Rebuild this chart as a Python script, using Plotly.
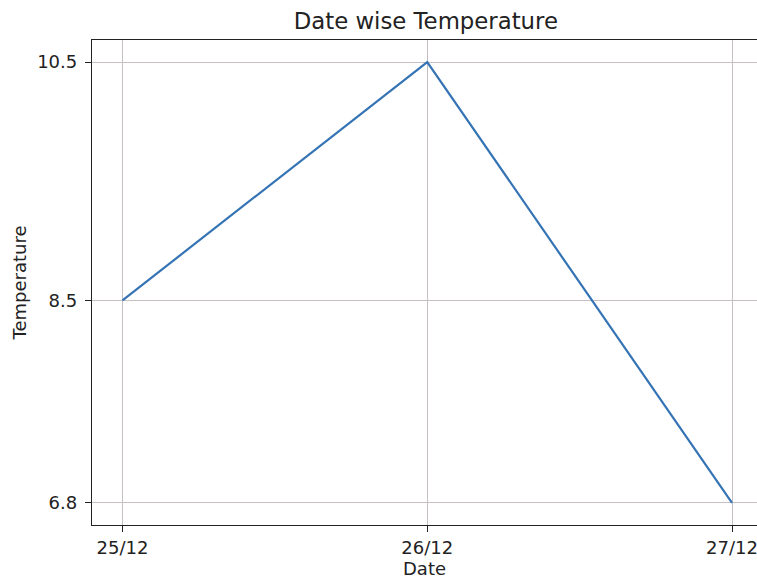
import plotly.graph_objects as go

dates = ["25/12", "26/12", "27/12"]
temperature = [8.5, 10.5, 6.8]
y_ticks = [6.8, 8.5, 10.5]

font = "DejaVu Sans"
fig = go.Figure()
fig.add_trace(go.Scatter(x=list(range(len(dates))), y=temperature, mode="lines",
                         line=dict(color="#3574b4", width=2.2)))

fig.update_layout(
    width=757, height=580,
    margin=dict(l=92, r=0, t=40, b=55, autoexpand=False),
    paper_bgcolor="white", plot_bgcolor="white",
    showlegend=False,
    font=dict(family=font, size=18, color="#222222"),
    title=dict(text="Date wise Temperature", xref="paper", x=0.502, xanchor="center",
               yref="container", y=1 - 21 / 580, yanchor="middle",
               font=dict(size=22.8, color="#222222")),
)
fig.update_xaxes(
    range=[-0.1, 2 + 25 / 305],
    tickmode="array", tickvals=list(range(len(dates))), ticktext=dates,
    showgrid=True, gridcolor="#c6bfc3", gridwidth=1,
    showline=True, linecolor="#222222", linewidth=1.3, mirror=True,
    ticks="outside", ticklen=6, tickcolor="#222222",
    zeroline=False, automargin=False, ticklabeloverflow="allow",
    title=dict(text="Date", standoff=0, font=dict(size=18)),
)
fig.update_yaxes(
    range=[6.8 - 0.185, 10.5 + 0.185],
    tickmode="array", tickvals=y_ticks, ticktext=[str(v) for v in y_ticks],
    showgrid=True, gridcolor="#c6bfc3", gridwidth=1,
    showline=True, linecolor="#222222", linewidth=1.3, mirror=False,
    ticks="outside", ticklen=6, tickcolor="#222222", ticklabelstandoff=4,
    zeroline=False, automargin=False,
    title=dict(text="Temperature", standoff=5, font=dict(size=18)),
)
fig.write_html("out.html", config={"displayModeBar": False},
               post_script="document.body.style.margin='0';document.body.style.overflow='hidden';")
